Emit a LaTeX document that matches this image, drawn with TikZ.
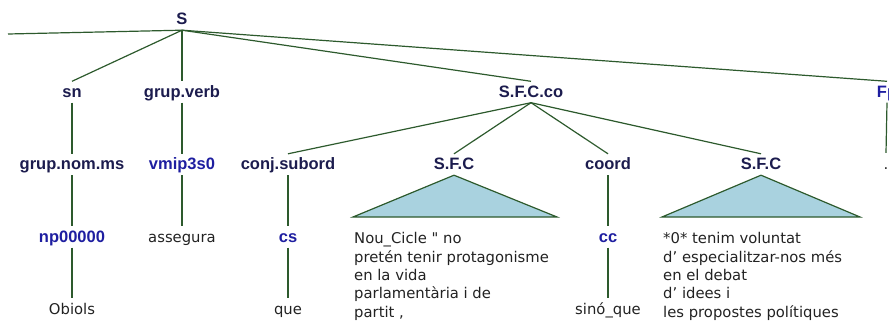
\documentclass[tikz,border=0pt]{standalone}
\usepackage{fontspec}
\setmainfont{Liberation Sans}
\newfontfamily\wordfont[Ligatures=TeXOff]{DejaVu Sans}
\definecolor{navy}{HTML}{1C1C4E}
\definecolor{tagblue}{HTML}{1E1EA0}
\definecolor{wordgray}{HTML}{222222}
\definecolor{linegreen}{HTML}{2D5A2D}
\definecolor{trifill}{HTML}{A9D2DF}
\begin{document}
\begin{tikzpicture}[x=1pt,y=-1pt,
  lbl/.style={font=\bfseries\fontsize{16.5}{18}\selectfont, text=navy,
    text height=13pt, text depth=2pt, inner xsep=1pt, inner ysep=3pt, anchor=base},
  tag/.style={lbl, text=tagblue},
  word/.style={font=\wordfont\fontsize{14.8}{18.3}\selectfont, text=wordgray,
    text height=13pt, text depth=2pt, inner xsep=1pt, inner ysep=3pt, anchor=base},
  block/.style={font=\wordfont\fontsize{14.8}{18.3}\selectfont, text=wordgray,
    align=left, anchor=north west, inner sep=0pt},
  edge/.style={draw=linegreen, line width=1.2pt},
  tri/.style={fill=trifill, draw=linegreen, line width=1.2pt, line join=miter}]
\useasboundingbox (0,0) rectangle (889,326);

% level 0
\node[lbl] (S) at (182,25) {S};
\coordinate (offl) at (8,34);
% level 1
\node[lbl] (sn) at (72,97.5) {sn};
\node[lbl] (gv) at (182,97.5) {grup.verb};
\node[lbl] (sfcco) at (531,97.5) {S.F.C.co};
\node[tag] (fp) at (887,97.5) {Fp};
% level 2
\node[lbl] (gnm) at (72,170) {grup.nom.ms};
\node[tag] (vmip) at (182,170) {vmip3s0};
\node[lbl] (conj) at (288,170) {conj.subord};
\node[lbl] (sfc1) at (454,170) {S.F.C};
\node[lbl] (coord) at (608,170) {coord};
\node[lbl] (sfc2) at (761,170) {S.F.C};
\node[word] (dot) at (886,169) {.};
% level 3
\node[tag] (np) at (72,242.5) {np00000};
\node[word] (asseg) at (182,242.5) {assegura};
\node[tag] (cs) at (288,242.5) {cs};
\node[tag] (cc) at (608,242.5) {cc};
% level 4
\node[word] (obiols) at (72,314) {Obiols};
\node[word] (que) at (288,314) {que};
\node[word] (sinoque) at (608,314) {sinó\_que};

% triangles
\coordinate (t1l) at (353,217);
\coordinate (t1r) at (557,217);
\coordinate (t2l) at (662,217);
\coordinate (t2r) at (860,217);
\draw[tri] (sfc1.south) -- (t1l) -- (t1r) -- cycle;
\draw[tri] (sfc2.south) -- (t2l) -- (t2r) -- cycle;

% text blocks
\node[block] (b1) at (354,232.5) {Nou\_Cicle " no\\pretén tenir protagonisme\\en la vida\\parlamentària i de\\partit ,};
\node[block] (b2) at (663,232.5) {*0* tenim voluntat\\d’ especialitzar-nos més\\en el debat\\d’ idees i\\les propostes polítiques};

% edges
\draw[edge] (S.south) -- (offl);
\draw[edge] (S.south) -- (sn.north);
\draw[edge] (S.south) -- (gv.north);
\draw[edge] (S.south) -- (sfcco.north);
\draw[edge] (S.south) -- (fp.north);
\draw[edge] (sn.south) -- (gnm.north);
\draw[edge] (gv.south) -- (vmip.north);
\draw[edge] (fp.south) -- (dot.north);
\draw[edge] (sfcco.south) -- (conj.north);
\draw[edge] (sfcco.south) -- (sfc1.north);
\draw[edge] (sfcco.south) -- (coord.north);
\draw[edge] (sfcco.south) -- (sfc2.north);
\draw[edge] (gnm.south) -- (np.north);
\draw[edge] (vmip.south) -- (asseg.north);
\draw[edge] (conj.south) -- (cs.north);
\draw[edge] (coord.south) -- (cc.north);
\draw[edge] (np.south) -- (obiols.north);
\draw[edge] (cs.south) -- (que.north);
\draw[edge] (cc.south) -- (sinoque.north);
\end{tikzpicture}
\end{document}
